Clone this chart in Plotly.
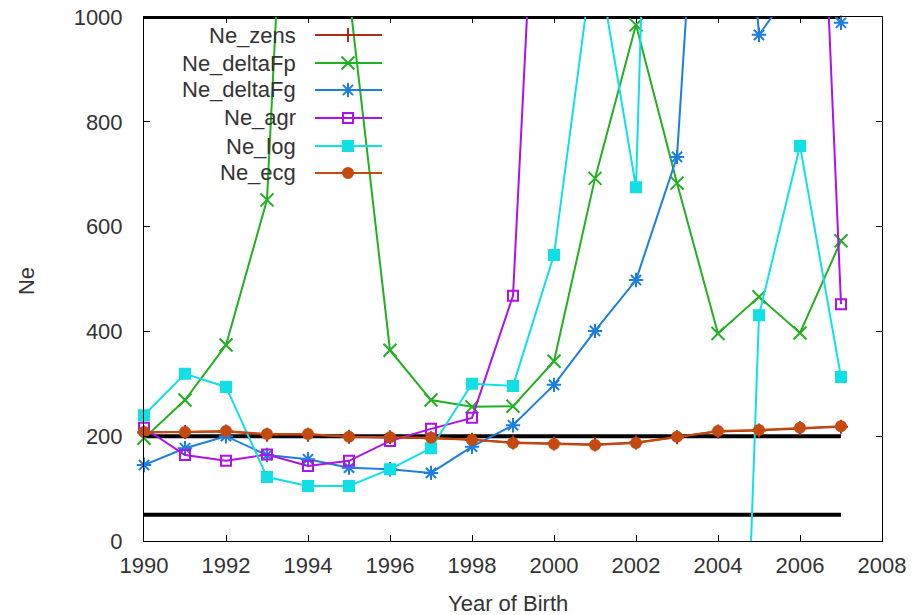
import plotly.graph_objects as go

# ---------------- data ----------------
years = list(range(1990, 2008))
ne_zens = [207, 208, 209, 203, 203, 199, 198, 196, 193, 188, 186, 184, 188, 198, 209, 211, 215, 218]
ne_deltaFp = [196, 269, 374, 651, 2240, 1045, 364, 269, 256, 257, 343, 692, 985, 683, 396, 466, 397, 573]
ne_deltaFg = [145, 177, 200, 164, 156, 140, 137, 130, 180, 221, 298, 401, 498, 733, 1950, 966, 1075, 989]
ne_agr = [216, 164, 153, 165, 143, 153, 191, 214, 235, 468, 2030, 3500, 5200, 4100, 2800, 3000, 2300, 452]
ne_log = [240, 319, 294, 122, 105, 105, 137, 177, 300, 296, 546, 1140, 675, 3300, -1800, 431, 754, 313]
ne_ecg = [208, 208, 210, 204, 204, 199, 198, 197, 193, 187, 185, 183, 187, 199, 210, 212, 216, 219]

thresholds = [1000, 200, 50]
threshold_span = [1990, 2007]

series_names = ["Ne_zens", "Ne_deltaFp", "Ne_deltaFg", "Ne_agr", "Ne_log", "Ne_ecg"]
series_values = [ne_zens, ne_deltaFp, ne_deltaFg, ne_agr, ne_log, ne_ecg]

y_range = [0, 1000]
x_range = [1990, 2008]
x_ticks = list(range(1990, 2009, 2))
y_ticks = list(range(0, 1001, 200))

# ---------------- styles ----------------
colors = ["#b02818", "#20b020", "#1c7fe0", "#b010ec", "#10e0e6", "#c44a10"]
symbols = ["cross-thin-open", "x-thin-open", "asterisk-open", "square-open", "square", "circle"]
sizes = [10, 13, 12, 10, 10, 10]
FONT = "Liberation Sans"
TXT = "#333333"


def in_range(v):
    return y_range[0] <= v <= y_range[1]


def gnuplot_segments(xs, ys):
    """Break lines where both endpoints are outside the y range (gnuplot 'clip two' off)."""
    ox, oy = [], []
    for i in range(len(xs)):
        ox.append(xs[i])
        oy.append(ys[i])
        if i < len(xs) - 1 and not in_range(ys[i]) and not in_range(ys[i + 1]):
            ox.append(None)
            oy.append(None)
    return ox, oy


fig = go.Figure()

# threshold lines
for t in thresholds:
    fig.add_trace(go.Scatter(
        x=threshold_span, y=[t, t], mode="lines",
        line=dict(color="black", width=4), showlegend=False, hoverinfo="skip",
        cliponaxis=False))

for name, vals, c, s, sz in zip(series_names, series_values, colors, symbols, sizes):
    lx, ly = gnuplot_segments(years, vals)
    fig.add_trace(go.Scatter(
        x=lx, y=ly, mode="lines", line=dict(color=c, width=2),
        name=name, showlegend=False, connectgaps=False))
    my = [v if in_range(v) else None for v in vals]
    fig.add_trace(go.Scatter(
        x=years, y=my, mode="markers", cliponaxis=False,
        marker=dict(symbol=s, size=sz, color=c, line=dict(color=c, width=2)),
        showlegend=False))

# custom gnuplot-style legend (text right-aligned, sample to the right)
leg_text_x = 0.2087
leg_line_x = [0.2317, 0.3225]
leg_mark_x = 0.2764
leg_rows = [0.9656, 0.9122, 0.8607, 0.8073, 0.7538, 0.7023]
annotations = []
for name, c, s, sz, ry in zip(series_names, colors, symbols, sizes, leg_rows):
    fig.add_trace(go.Scatter(
        x=leg_line_x, y=[ry, ry], mode="lines", line=dict(color=c, width=2),
        xaxis="x2", yaxis="y2", showlegend=False, hoverinfo="skip"))
    fig.add_trace(go.Scatter(
        x=[leg_mark_x], y=[ry], mode="markers", cliponaxis=False,
        marker=dict(symbol=s, size=sz, color=c, line=dict(color=c, width=2)),
        xaxis="x2", yaxis="y2", showlegend=False, hoverinfo="skip"))
    annotations.append(dict(
        x=leg_text_x, y=ry, xref="paper", yref="paper", text=name,
        xanchor="right", yanchor="middle", showarrow=False,
        font=dict(family=FONT, size=22, color=TXT)))

annotations.append(dict(
    x=0.493, y=-0.092, xref="paper", yref="paper", text="Year of Birth",
    xanchor="center", yanchor="top", showarrow=False,
    font=dict(family=FONT, size=22, color=TXT)))
annotations.append(dict(
    x=-0.16, y=0.496, xref="paper", yref="paper", text="Ne", textangle=-90,
    xanchor="center", yanchor="middle", showarrow=False,
    font=dict(family=FONT, size=22, color=TXT)))

axis_common = dict(
    showgrid=False, zeroline=False, showline=True, linecolor="black", linewidth=1,
    mirror="allticks", ticks="inside", ticklen=6, tickcolor="black", tickwidth=1,
    automargin=False,
    tickfont=dict(family=FONT, size=22, color=TXT))

fig.update_layout(
    width=920, height=615,
    margin=dict(l=144, r=38, t=17, b=74, autoexpand=False),
    paper_bgcolor="white", plot_bgcolor="white",
    showlegend=False,
    xaxis=dict(range=x_range, tickvals=x_ticks, ticklabelstandoff=5, **axis_common),
    yaxis=dict(range=y_range, tickvals=y_ticks, ticklabelstandoff=16, **axis_common),
    xaxis2=dict(overlaying="x", range=[0, 1], visible=False),
    yaxis2=dict(overlaying="y", range=[0, 1], visible=False),
    annotations=annotations,
    font=dict(family=FONT, size=22, color=TXT),
)

fig.write_html("out.html")
